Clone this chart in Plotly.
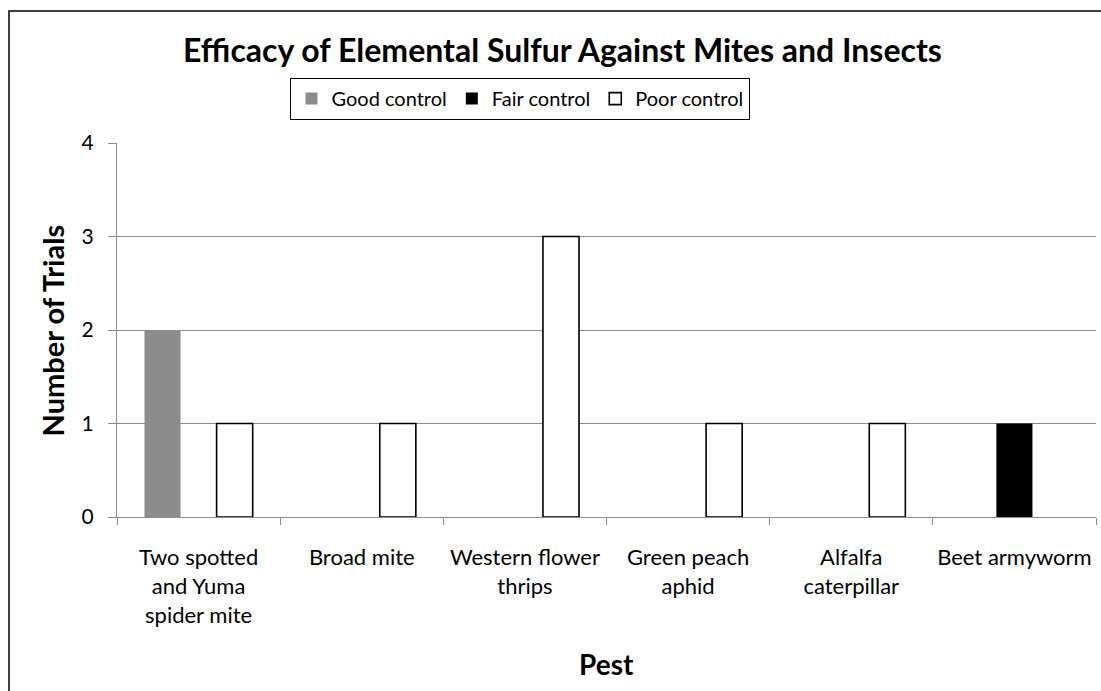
import plotly.graph_objects as go

# Trial counts per pest, split by level of control
pests = [
    "Two spotted<br>and Yuma<br>spider mite",
    "Broad mite",
    "Western flower<br>thrips",
    "Green peach<br>aphid",
    "Alfalfa<br>caterpillar",
    "Beet armyworm",
]
good_control = [2, None, None, None, None, None]
fair_control = [None, None, None, None, None, 1]
poor_control = [1, 1, 3, 1, 1, None]
y_ticks = [0, 1, 2, 3, 4]

FONT = "Lato"
GRID = "#8c8c8c"

fig = go.Figure()
fig.add_trace(go.Bar(name="Good control", x=pests, y=good_control,
                     marker=dict(color="#8c8c8c", line=dict(width=0))))
fig.add_trace(go.Bar(name="Fair control", x=pests, y=fair_control,
                     marker=dict(color="#000000", line=dict(width=0))))
fig.add_trace(go.Bar(name="Poor control", x=pests, y=poor_control,
                     marker=dict(color="#ffffff", line=dict(color="#000000", width=1.6))))

fig.update_layout(
    width=1101, height=691,
    margin=dict(l=117, r=5, t=143, b=174, autoexpand=False),
    paper_bgcolor="white", plot_bgcolor="white",
    barmode="group", bargap=0.337, bargroupgap=0,
    font=dict(family=FONT, size=22, color="black"),
    showlegend=True,
    legend=dict(orientation="h", x=0.177, y=1.174, xanchor="left", yanchor="top",
                bordercolor="black", borderwidth=1.2, bgcolor="white",
                font=dict(family=FONT, size=20), itemwidth=30,
                traceorder="normal"),
    xaxis=dict(showgrid=False, showline=True, linecolor=GRID, linewidth=1,
               ticks="outside", tickson="boundaries", ticklen=7, tickcolor=GRID,
               tickfont=dict(size=22), tickangle=0, ticklabelstandoff=21,
               automargin=False, fixedrange=True),
    yaxis=dict(range=[0, 4], tickvals=y_ticks, showgrid=True, gridcolor=GRID,
               gridwidth=1, showline=True, linecolor=GRID, linewidth=1,
               ticks="outside", ticklen=8, tickcolor=GRID, zeroline=False,
               tickfont=dict(size=21), ticklabelstandoff=10,
               automargin=False, fixedrange=True),
    annotations=[
        dict(text="<b>Efficacy of Elemental Sulfur Against Mites and Insects</b>",
             xref="paper", yref="paper", x=0.4546, y=1.249, showarrow=False,
             xanchor="center", yanchor="middle", font=dict(size=32)),
        dict(text="<b>Pest</b>", xref="paper", yref="paper", x=0.5, y=-0.393,
             showarrow=False, xanchor="center", yanchor="middle", font=dict(size=28)),
        dict(text="<b>Number of Trials</b>", xref="paper", yref="paper", x=-0.066, y=0.5,
             showarrow=False, xanchor="center", yanchor="middle", textangle=-90,
             font=dict(size=29)),
    ],
    shapes=[
        dict(type="rect", xref="paper", yref="paper", x0=-0.1103, y0=-0.6,
             x1=1.2, y1=1.353, line=dict(color="black", width=1.5), layer="below"),
    ],
)

fig.write_html("out.html")
